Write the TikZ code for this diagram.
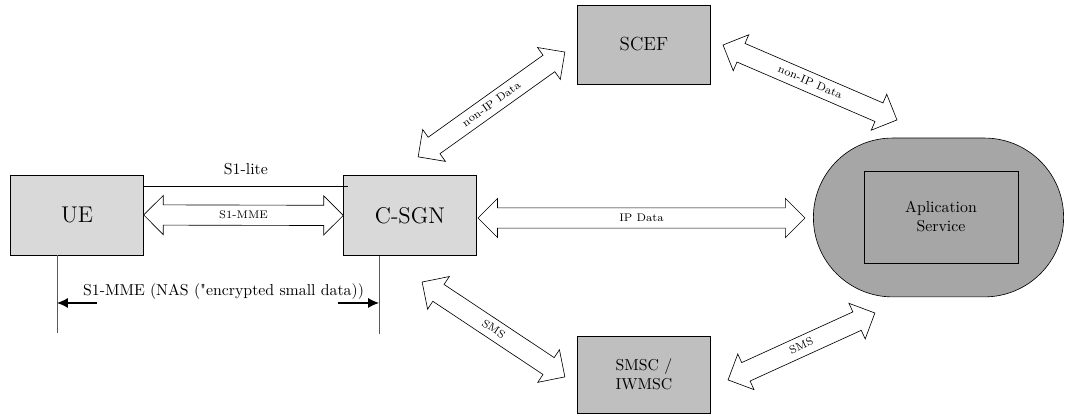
\documentclass[tikz,border=0pt]{standalone}
\usepackage{tikz}
\usetikzlibrary{calc,shapes.arrows,arrows.meta}

% wide arrow shape laid between two points
\newcommand{\dblarrow}[3]{%
\path let \p1=($(#2)-(#1)$), \n1={atan2(\y1,\x1)}, \n2={veclen(\x1,\y1)} in
node[dbl,rotate=\n1,minimum height=\n2] at ($(#1)!0.5!(#2)$) {#3};}

\begin{document}
\begin{tikzpicture}[
box/.style={draw,fill=gray!30,minimum width=2.95cm,minimum height=1.78cm,align=center},
darkbox/.style={box,fill=gray!50},
dbl/.style={double arrow,draw,fill=white,font=\scriptsize,text height=5pt,text depth=1pt,
inner xsep=0pt,inner ysep=3.2pt,double arrow head extend=0.21cm},
life/.style={draw=black!65},
msg/.style={-{Latex[length=2.4mm,width=2.2mm]},line width=0.7pt}]
\useasboundingbox (0,0) rectangle (23.667,9.244);

% network elements
\node[box,font=\Large] (ue) at (1.711,4.467) {UE};
\node[box,font=\Large] (cs) at (9.111,4.456) {C-SGN};
\node[darkbox,font=\large,minimum height=1.756cm] (scef) at (14.311,8.256) {SCEF};
\node[darkbox,minimum height=1.711cm] (smsc) at (14.311,0.922) {SMSC /\\IWMSC};
\node[draw,fill=gray!70,rounded corners=1.76cm,minimum width=5.56cm,minimum height=3.53cm] (app) at (20.856,4.411) {};
\node[draw,fill=gray!70,minimum width=3.42cm,minimum height=2.04cm,align=center] (svc) at (20.911,4.422) {Aplication\\Service};

% S1-lite
\coordinate (l1) at (ue.east |- 0,5.1);
\coordinate (l2) at ([xshift=3pt]cs.west |- 0,5.1);
\draw (l1) -- (l2) node[midway,above=4pt] {S1-lite};

% ends of the wide arrows
\coordinate (c1) at (9.289,5.756);
\coordinate (s1) at (12.556,8.089);
\coordinate (s2) at (16.067,8.244);
\coordinate (a2) at (19.933,6.578);
\coordinate (c3) at (9.378,2.978);
\coordinate (m3) at (12.556,0.867);
\coordinate (m4) at (16.178,0.8);
\coordinate (a4) at (19.444,2.289);
\coordinate (c5) at (10.622,4.4);
\coordinate (a5) at (17.889,4.4);

\dblarrow{ue.east}{cs.west}{S1-MME}
\dblarrow{c5}{a5}{IP Data}
\dblarrow{c1}{s1}{non-IP Data}
\dblarrow{s2}{a2}{non-IP Data}
\dblarrow{c3}{m3}{SMS}
\dblarrow{m4}{a4}{SMS}

% lifelines and NAS message
\coordinate (ueA) at ([xshift=-0.444cm]ue.south);
\coordinate (ueB) at ($(ueA)+(0,-1.733)$);
\coordinate (csA) at ([xshift=-0.689cm]cs.south);
\coordinate (csB) at ($(csA)+(0,-1.733)$);
\draw[life] (ueA) -- (ueB);
\draw[life] (csA) -- (csB);
\node (nas) at (4.967,2.76) {S1-MME (NAS (\textquotedbl encrypted small data))};
\coordinate (ueM) at (ueA |- 0,2.511);
\coordinate (csM) at (csA |- 0,2.511);
\coordinate (m1) at ($(ueM)+(0.889,0)$);
\coordinate (m2) at ($(csM)+(-0.911,0)$);
\draw[msg] (m1) -- (ueM);
\draw[msg] (m2) -- (csM);
\end{tikzpicture}
\end{document}
